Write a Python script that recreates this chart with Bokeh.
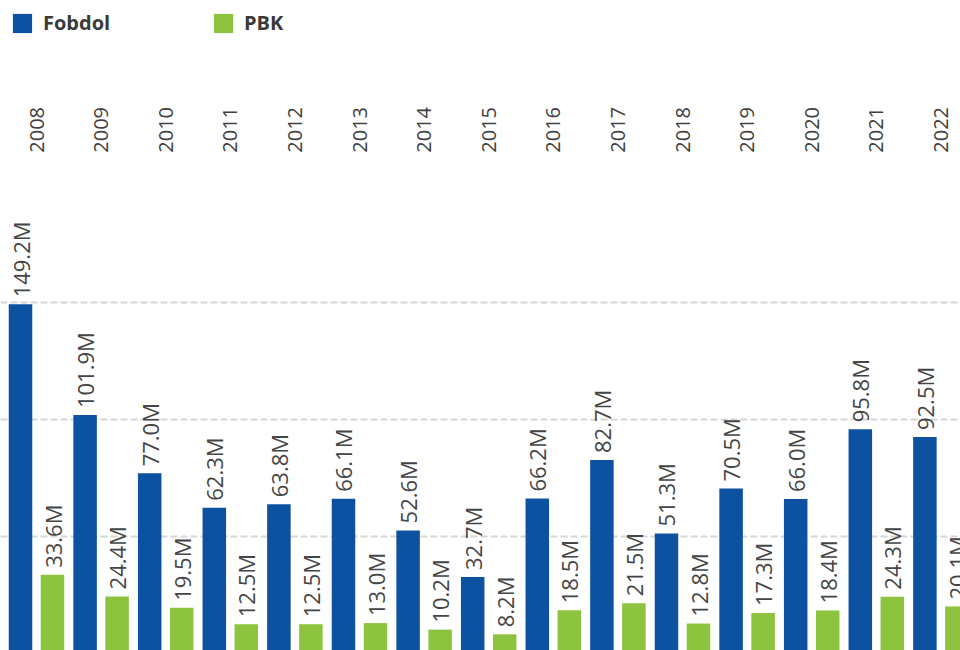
import math
from bokeh.plotting import figure
from bokeh.models import (ColumnDataSource, FixedTicker, Grid, Range1d,
                          Legend, LegendItem)
from bokeh.transform import dodge
from bokeh.core.properties import value
from bokeh.embed import file_html
from bokeh.resources import INLINE

years = [2008, 2009, 2010, 2011, 2012, 2013, 2014, 2015, 2016, 2017, 2018, 2019, 2020, 2021, 2022]
fobdol = [149.2, 101.9, 77.0, 62.3, 63.8, 66.1, 52.6, 32.7, 66.2, 82.7, 51.3, 70.5, 66.0, 95.8, 92.5]
pbk = [33.6, 24.4, 19.5, 12.5, 12.5, 13.0, 10.2, 8.2, 18.5, 21.5, 12.8, 17.3, 18.4, 24.3, 20.1]
grid_values = [50, 100, 150]
series_names = ["Fobdol", "PBK"]

BLUE = "#0D52A0"
GREEN = "#8CC43F"
FONT = "Open Sans"
YEAR_LABEL_Y = 214.0   # data height at which the rotated year labels start

src = ColumnDataSource(dict(
    year=years,
    year_label=[str(y) for y in years],
    year_y=[YEAR_LABEL_Y] * len(years),
    fob=fobdol,
    pbk=pbk,
    fob_label=[f"{v:.1f}M" for v in fobdol],
    pbk_label=[f"{v:.1f}M" for v in pbk],
))

p = figure(width=960, height=650, output_backend="svg", toolbar_location=None,
           x_axis_location=None, y_axis_location=None,
           x_range=Range1d(2007.4427, 2022.3034), y_range=Range1d(1.28, 279.06),
           min_border=0, outline_line_color=None)
p.grid.visible = False

p.add_layout(Grid(dimension=1, ticker=FixedTicker(ticks=grid_values),
                  grid_line_color="#d6d6d6", grid_line_width=2,
                  grid_line_dash="7 3"))

off = 0.2477
w = 0.364
r1 = p.vbar(x=dodge("year", -off, range=p.x_range), top="fob", bottom=0, width=w,
            source=src, fill_color=BLUE, line_color=None)
r2 = p.vbar(x=dodge("year", off, range=p.x_range), top="pbk", bottom=0, width=w,
            source=src, fill_color=GREEN, line_color=None)

for col, lab, dx in (("fob", "fob_label", -off), ("pbk", "pbk_label", off)):
    p.text(x=dodge("year", dx, range=p.x_range), y=col, text=lab, source=src,
           angle=math.pi / 2, text_align="left", text_baseline="middle",
           y_offset=-7, text_font=value(FONT), text_font_size="22px",
           text_color="#454545")

# category (year) labels along the top
p.text(x="year", y="year_y", text="year_label", source=src,
       angle=math.pi / 2, text_align="left", text_baseline="middle",
       text_font=value(FONT), text_font_size="20px", text_color="#404040")

legend = Legend(items=[LegendItem(label=series_names[0], renderers=[r1]),
                       LegendItem(label=series_names[1], renderers=[r2])],
                orientation="horizontal", location=(10, 614),
                glyph_width=24, glyph_height=24, label_standoff=9,
                label_width=160, spacing=8, padding=0, margin=0,
                border_line_color=None, background_fill_alpha=0,
                label_text_font=FONT, label_text_font_style="bold",
                label_text_font_size="20px", label_text_color="#3a3a3a")
p.add_layout(legend, "center")

open("out.html", "w").write(file_html(p, INLINE))
